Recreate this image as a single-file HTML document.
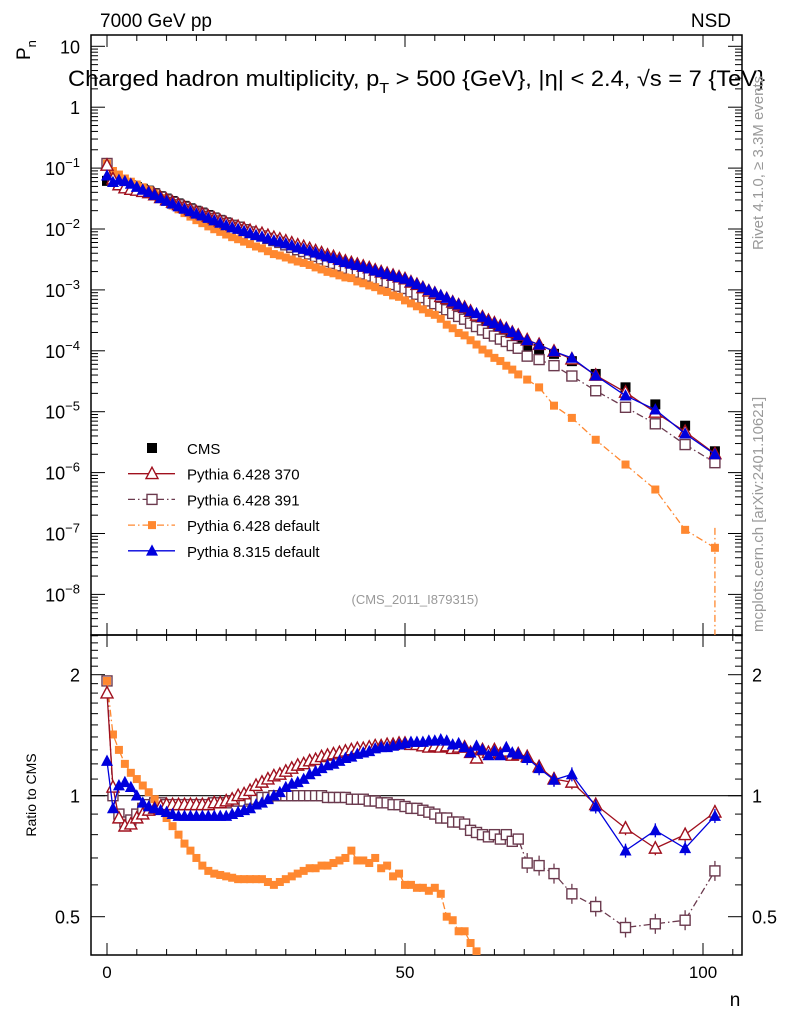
<!DOCTYPE html>
<html><head><meta charset="utf-8"><style>
html,body{margin:0;padding:0;background:#fff;overflow:hidden;width:786px;height:1024px}
svg{display:block;font-family:"Liberation Sans",sans-serif}
</style></head><body>
<svg id="c" width="786" height="1024" viewBox="0 0 786 1024" xmlns="http://www.w3.org/2000/svg">
<text x="100" y="27" font-size="19">7000 GeV pp</text>
<text x="731" y="27" font-size="19" text-anchor="end">NSD</text>
<text x="68" y="86" font-size="22" textLength="697" lengthAdjust="spacingAndGlyphs">Charged hadron multiplicity, p<tspan font-size="15" dy="7">T</tspan><tspan dy="-7"> &gt; 500 {GeV}, |η| &lt; 2.4, √s = 7 {TeV}</tspan></text>
<text transform="translate(30,60) rotate(-90)" font-size="19">P<tspan font-size="13" dy="6">n</tspan></text>
<text transform="translate(36,795) rotate(-90)" font-size="14" text-anchor="middle">Ratio to CMS</text>
<text x="735" y="1006" font-size="19" text-anchor="middle">n</text>
<text transform="translate(763,250) rotate(-90)" font-size="15" fill="#999">Rivet 4.1.0, ≥ 3.3M events</text>
<text transform="translate(763,632) rotate(-90)" font-size="15" fill="#999">mcplots.cern.ch [arXiv:2401.10621]</text>
<text x="415" y="604" font-size="13" fill="#999" text-anchor="middle">(CMS_2011_I879315)</text>
<g id="g"></g>
</svg>
<script>
const nVals=[0,1,2,3,4,5,6,7,8,9,10,11,12,13,14,15,16,17,18,19,20,21,22,23,24,25,26,27,28,29,30,31,32,33,34,35,36,37,38,39,40,41,42,43,44,45,46,47,48,49,50,51,52,53,54,55,56,57,58,59,60,61,62,63,64,65,66,67,68,69,70.5,72.5,75,78,82,87,92,97,102];
const cmsLog=[-1.21,-1.20,-1.22,-1.25,-1.28,-1.31,-1.34,-1.37,-1.41,-1.46,-1.50,-1.54,-1.58,-1.62,-1.66,-1.70,-1.73,-1.77,-1.81,-1.85,-1.89,-1.93,-1.96,-2.00,-2.04,-2.08,-2.11,-2.15,-2.19,-2.22,-2.26,-2.30,-2.34,-2.37,-2.41,-2.45,-2.49,-2.53,-2.56,-2.60,-2.64,-2.67,-2.70,-2.73,-2.76,-2.80,-2.83,-2.86,-2.89,-2.92,-2.95,-3.00,-3.04,-3.09,-3.14,-3.18,-3.23,-3.27,-3.32,-3.37,-3.41,-3.46,-3.51,-3.56,-3.61,-3.66,-3.70,-3.75,-3.80,-3.85,-3.92,-3.97,-4.05,-4.17,-4.38,-4.60,-4.88,-5.23,-5.65];
const r370=[1.8,1.05,0.88,0.84,0.85,0.88,0.9,0.92,0.93,0.94,0.95,0.95,0.95,0.95,0.95,0.95,0.95,0.95,0.96,0.96,0.97,0.98,1.0,1.01,1.03,1.06,1.08,1.1,1.12,1.13,1.15,1.17,1.19,1.2,1.22,1.23,1.25,1.26,1.27,1.28,1.29,1.3,1.31,1.31,1.32,1.33,1.33,1.34,1.34,1.35,1.35,1.34,1.34,1.33,1.32,1.33,1.32,1.33,1.31,1.32,1.32,1.28,1.24,1.3,1.28,1.3,1.27,1.29,1.26,1.27,1.25,1.18,1.1,1.08,0.95,0.83,0.74,0.8,0.91];
const r391=[1.93,1.0,0.9,0.86,0.87,0.9,0.93,0.95,0.96,0.96,0.95,0.95,0.95,0.95,0.95,0.95,0.95,0.95,0.96,0.96,0.96,0.97,0.97,0.97,0.98,0.98,0.99,0.99,1.0,1.0,1.0,1.0,1.0,1.0,1.0,1.0,1.0,0.99,0.99,0.99,0.99,0.98,0.98,0.98,0.97,0.97,0.96,0.96,0.95,0.95,0.94,0.93,0.93,0.92,0.91,0.9,0.88,0.88,0.86,0.86,0.85,0.82,0.81,0.8,0.79,0.8,0.78,0.8,0.77,0.78,0.68,0.67,0.64,0.57,0.53,0.47,0.48,0.49,0.65];
const rDef6=[1.93,1.42,1.3,1.2,1.14,1.1,1.06,1.02,0.98,0.93,0.88,0.84,0.8,0.76,0.73,0.7,0.67,0.65,0.64,0.635,0.63,0.625,0.62,0.62,0.62,0.62,0.62,0.61,0.6,0.61,0.62,0.63,0.64,0.65,0.66,0.66,0.67,0.67,0.68,0.69,0.7,0.73,0.69,0.69,0.68,0.7,0.66,0.67,0.63,0.64,0.6,0.6,0.59,0.59,0.58,0.59,0.57,0.5,0.49,0.46,0.46,0.43,0.41,0.38,0.37,0.35,0.34,0.32,0.31,0.29,0.28,0.234,0.141,0.117,0.083,0.054,0.04,0.0195,0.026];
const r8=[1.22,0.93,1.06,1.08,1.05,1.0,0.96,0.94,0.93,0.92,0.91,0.9,0.89,0.89,0.89,0.89,0.89,0.89,0.89,0.89,0.89,0.9,0.91,0.92,0.93,0.95,0.96,0.98,1.0,1.02,1.05,1.07,1.08,1.1,1.13,1.15,1.17,1.19,1.2,1.22,1.24,1.25,1.27,1.28,1.29,1.31,1.32,1.32,1.33,1.34,1.35,1.36,1.36,1.36,1.37,1.37,1.38,1.37,1.34,1.35,1.32,1.28,1.33,1.3,1.26,1.29,1.26,1.32,1.28,1.27,1.24,1.17,1.095,1.13,0.94,0.73,0.82,0.74,0.89];
const xTicks=[0,50,100];
const logTicks=[1,0,-1,-2,-3,-4,-5,-6,-7,-8];
const ratioTicks=[0.5,1,2];

const NS='http://www.w3.org/2000/svg';
const g=document.getElementById('g');
const L=91,R=742,T=35,MID=635,B=955;
const X=n=>107+5.96*n;
const Y=lg=>46.3+60.9*(1-lg);
const YR=r=>795.7-121*Math.log2(r);
function el(tag,attrs,parent){const e=document.createElementNS(NS,tag);for(const k in attrs)e.setAttribute(k,attrs[k]);(parent||g).appendChild(e);return e;}

const defs=el('defs',{});
const c1=el('clipPath',{id:'ct'},defs);el('rect',{x:L,y:T,width:R-L,height:MID-T},c1);
const c2=el('clipPath',{id:'cr'},defs);el('rect',{x:L,y:MID,width:R-L,height:B-MID},c2);

const f1=el('rect',{x:L,y:T,width:R-L,height:MID-T,fill:'none',stroke:'#000','stroke-width':1.5});


const f2=el('rect',{x:L,y:MID,width:R-L,height:B-MID,fill:'none',stroke:'#000','stroke-width':1.5});



for(let n=0;n<=105;n+=5){
  const major=n%50===0, len=major?12:6, x=X(n);
  for(const [y0,d] of [[MID,-1],[T,1],[B,-1],[MID,1]]){el('line',{x1:x,x2:x,y1:y0,y2:y0+d*len,stroke:'#000','stroke-width':1});}
}
xTicks.forEach(v=>{const t=el('text',{x:X(v),y:978,'font-size':17,'text-anchor':'middle'});t.textContent=v;

});

for(let d=1;d>=-9;d--){
  for(let m=1;m<10;m++){
    const lg=d+Math.log10(m); const y=Y(lg); if(y<T||y>MID)continue;
    const len=m===1?14:7;
    el('line',{x1:L,x2:L+len,y1:y,y2:y,stroke:'#000'});
    el('line',{x1:R,x2:R-len,y1:y,y2:y,stroke:'#000'});
  }
}
logTicks.forEach(d=>{
  const t=el('text',{x:80,y:Y(d)+7,'font-size':18,'text-anchor':'end'});
  
  
  if(d===1)t.textContent='10';else if(d===0)t.textContent='1';
  else{t.textContent='10';const s=el('tspan',{dy:-8,'font-size':13},t);s.textContent='−'+(-d);}
});

for(let r=0.4;r<=2.55;r+=0.1){
  const rr=Math.round(r*10)/10;const y=YR(rr);if(y<MID||y>B)continue;
  const len=(rr===0.5||rr===1||rr===2)?14:7;
  el('line',{x1:L,x2:L+len,y1:y,y2:y,stroke:'#000'});
  el('line',{x1:R,x2:R-len,y1:y,y2:y,stroke:'#000'});
}
ratioTicks.forEach(r=>{
  const t=el('text',{x:80,y:YR(r)+7,'font-size':18,'text-anchor':'end'});t.textContent=r;
  
  
  const t2=el('text',{x:752,y:YR(r)+7,'font-size':18});t2.textContent=r;
  
  
});
const one=el('line',{x1:L,x2:R,y1:YR(1),y2:YR(1),stroke:'#000','stroke-width':1.2});



function marker(parent,kind,x,y,col,size){
  const s=size;
  if(kind==='sq'||kind==='osq'){
    return el('rect',{x:x-s/2,y:y-s/2,width:s,height:s,fill:kind==='sq'?col:'#fff',stroke:col,'stroke-width':kind==='sq'?0:1.4},parent);
  }
  const h=s*0.9;
  return el('polygon',{points:`${x},${y-h*0.6} ${x-s/2},${y+h*0.45} ${x+s/2},${y+h*0.45}`,fill:kind==='tri'?col:'#fff',stroke:col,'stroke-width':kind==='tri'?0:1.4},parent);
}

const series=[
 {name:'pythia-6428-391',r:r391,col:'#6b3a4e',dash:'7,3,1.5,3',m:'osq',s:10,e:10},
 {name:'pythia-6428-default',r:rDef6,col:'#ff8830',dash:'7,3,1.5,3',m:'sq',s:8,e:6},
 {name:'pythia-6428-370',r:r370,col:'#a0101e',dash:'',m:'otri',s:12,e:7},
 {name:'pythia-8315-default',r:r8,col:'#0000dd',dash:'',m:'tri',s:12,e:7},
];

const gc=el('g',{'clip-path':'url(#ct)'});


cmsLog.forEach((lg,i)=>{const m=marker(gc,'sq',X(nVals[i]),Y(lg),'#000',10);
 
 });

series.forEach(S=>{
  const gm=el('g',{'clip-path':'url(#ct)'});
  
  
  const pts=S.r.map((r,i)=>[X(nVals[i]),Y(cmsLog[i]+Math.log10(r))]);
  el('polyline',{points:pts.map(p=>p.join(',')).join(' '),fill:'none',stroke:S.col,'stroke-width':1.3,'stroke-dasharray':S.dash},gm);
  pts.forEach(p=>{const m=marker(gm,S.m,p[0],p[1],S.col,S.s);
    
    });
  const gr=el('g',{'clip-path':'url(#cr)'});
  
  
  const rp=S.r.map((r,i)=>[X(nVals[i]),YR(r)]);
  el('polyline',{points:rp.map(p=>p.join(',')).join(' '),fill:'none',stroke:S.col,'stroke-width':1.3,'stroke-dasharray':S.dash},gr);
  rp.forEach((p,i)=>{ if(nVals[i]>70){el('line',{x1:p[0],x2:p[0],y1:p[1]-S.e,y2:p[1]+S.e,stroke:S.col,'stroke-width':1.3},gr);}
    const m=marker(gr,S.m,p[0],p[1],S.col,S.s);
    
    });
});
const lastI=nVals.length-1;
el('line',{x1:X(nVals[lastI]),x2:X(nVals[lastI]),y1:Y(cmsLog[lastI]+Math.log10(rDef6[lastI]))-20,y2:MID,stroke:'#ff8830','stroke-width':1.3,'stroke-dasharray':'7,3,1.5,3'});

const leg=[['CMS','#000','','sq',10],['Pythia 6.428 370','#a0101e','','otri',12],['Pythia 6.428 391','#6b3a4e','7,3,1.5,3','osq',10],['Pythia 6.428 default','#ff8830','7,3,1.5,3','sq',8],['Pythia 8.315 default','#0000dd','','tri',12]];
leg.forEach((l,i)=>{
  const y=448+i*25.7;
  const gl=el('g',{});
  
  
  if(i>0)el('line',{x1:128,x2:175,y1:y,y2:y,stroke:l[1],'stroke-width':1.3,'stroke-dasharray':l[2]},gl);
  marker(gl,l[3],152,y,l[1],l[4]);
  const t=el('text',{x:187,y:y+6,'font-size':15},gl);t.textContent=l[0];
});
</script>
</body></html>
